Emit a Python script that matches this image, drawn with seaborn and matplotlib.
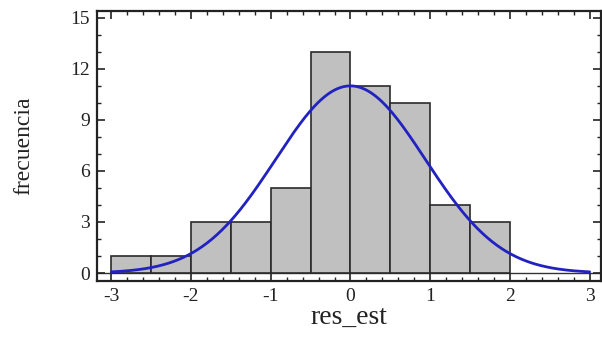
import numpy as np
import pandas as pd
import matplotlib
matplotlib.use("Agg")
import matplotlib.pyplot as plt
import seaborn as sns
from matplotlib.ticker import MultipleLocator

# Histogram data
bin_left = [-3.0, -2.5, -2.0, -1.5, -1.0, -0.5, 0.0, 0.5, 1.0, 1.5]
counts = [1, 1, 3, 3, 5, 13, 11, 10, 4, 3]
bin_width = 0.5
# fitted normal curve parameters
fit_mean = 0.0
fit_sd = 0.94
fit_peak = 11.0

sns.set_theme(style="white")
plt.rcParams['font.family'] = ['Liberation Serif', 'DejaVu Serif']

fig = plt.figure(figsize=(6.02, 3.52), dpi=100)
ax = fig.add_axes([0.161, 0.2017, 0.837, 0.767])

ax.axhline(0, color="#333333", linewidth=1.0, zorder=0.5)

df = pd.DataFrame({"x": [b + bin_width / 2 for b in bin_left], "w": counts})
edges = bin_left + [bin_left[-1] + bin_width]
sns.histplot(data=df, x="x", weights="w", bins=edges, ax=ax,
             color="#c0c0c0", edgecolor="#2a2a2a", linewidth=1.2, alpha=1.0)

xs = np.linspace(-3, 3, 300)
ys = fit_peak * np.exp(-0.5 * ((xs - fit_mean) / fit_sd) ** 2)
sns.lineplot(x=xs, y=ys, ax=ax, color="#2222c0", linewidth=2.0)

ax.set_xlim(-3.18, 3.14)
ax.set_ylim(-0.47, 15.4)
ax.set_xticks([-3, -2, -1, 0, 1, 2, 3])
ax.set_xticklabels(["-3", "-2", "-1", "0", "1", "2", "3"])
ax.set_yticks([0, 3, 6, 9, 12, 15])
ax.xaxis.set_minor_locator(MultipleLocator(0.2))
ax.yaxis.set_minor_locator(MultipleLocator(1))
ax.tick_params(which="major", direction="in", length=6, width=1.2,
               top=True, right=True, bottom=True, left=True, labelsize=14, colors="#222222", pad=5)
ax.tick_params(which="minor", direction="in", length=3, width=1.0,
               top=True, right=True, bottom=True, left=True, colors="#222222")
for s in ax.spines.values():
    s.set_color("#222222")
    s.set_linewidth(1.6)
ax.set_xlabel("res_est", fontsize=20, color="#222222", labelpad=0)
ax.set_ylabel("frecuencia", fontsize=17, color="#222222", labelpad=26)

fig.savefig("out.png", dpi=100)
